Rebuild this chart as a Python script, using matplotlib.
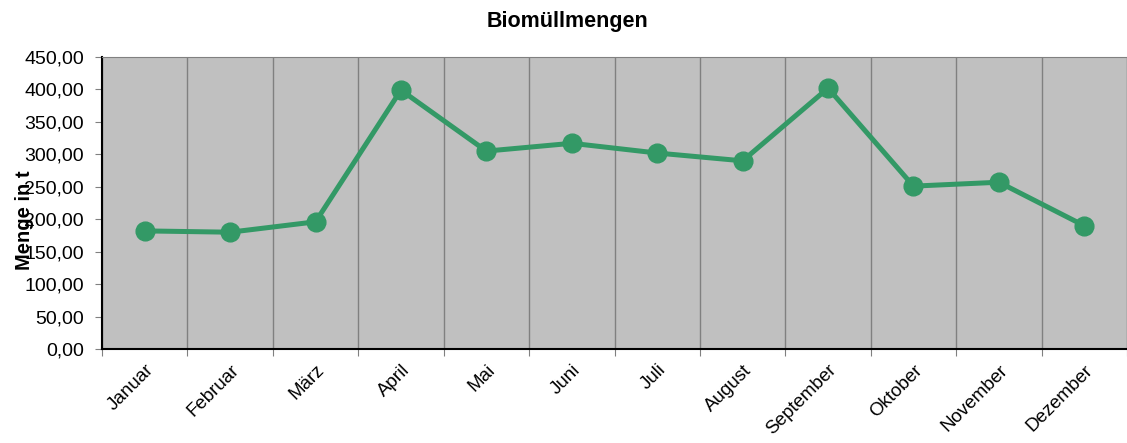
import matplotlib.pyplot as plt
import numpy as np

months = ['Januar', 'Februar', 'März', 'April', 'Mai', 'Juni', 'Juli',
          'August', 'September', 'Oktober', 'November', 'Dezember']
mengen = [182, 180, 196, 399, 305, 317, 302, 290, 402, 251, 257, 190]
yticks = np.arange(0, 451, 50)

plt.rcParams['font.family'] = ['Liberation Sans', 'DejaVu Sans']

fig = plt.figure(figsize=(11.27, 4.43), dpi=100)
ax = fig.add_axes([102 / 1127, 1 - 349 / 443, (1127 - 102) / 1127, (349 - 57) / 443])
ax.set_facecolor('#C0C0C0')

x = np.arange(len(months))
ax.plot(x, mengen, color='#339966', linewidth=3.6, marker='o', markersize=13.5, zorder=3)

# category borders as vertical grid lines
ax.set_xlim(-0.5, 11.4)
ax.set_xticks(np.arange(-0.5, 12, 1), minor=False)
ax.set_xticklabels([])
ax.set_xticks(x, minor=True)
ax.set_xticklabels(months, minor=True, rotation=45, ha='right', va='top',
                   rotation_mode='anchor', fontsize=13.5)
ax.tick_params(axis='x', which='major', length=5, color='#808080', direction='out')
ax.tick_params(axis='x', which='minor', length=0, pad=9)
ax.grid(True, axis='x', which='major', color='#808080', linewidth=1)

ax.set_ylim(0, 450)
ax.set_yticks(yticks)
ax.set_yticklabels([f'{v:.2f}'.replace('.', ',') for v in yticks], fontsize=14)
ax.tick_params(axis='y', length=5, color='#808080', direction='out', pad=8)

for side in ['top', 'right']:
    ax.spines[side].set_color('#808080')
for side in ['left', 'bottom']:
    ax.spines[side].set_color('black')
    ax.spines[side].set_linewidth(1.5)

fig.text(24 / 1127, 1 - 220 / 443, 'Menge in t', rotation=90, ha='center', va='center',
         fontsize=14.5, fontweight='bold')
fig.text(567 / 1127, 1 - 21 / 443, 'Biomüllmengen', ha='center', va='center',
         fontsize=15.5, fontweight='bold')

fig.savefig('out.png', dpi=100)
